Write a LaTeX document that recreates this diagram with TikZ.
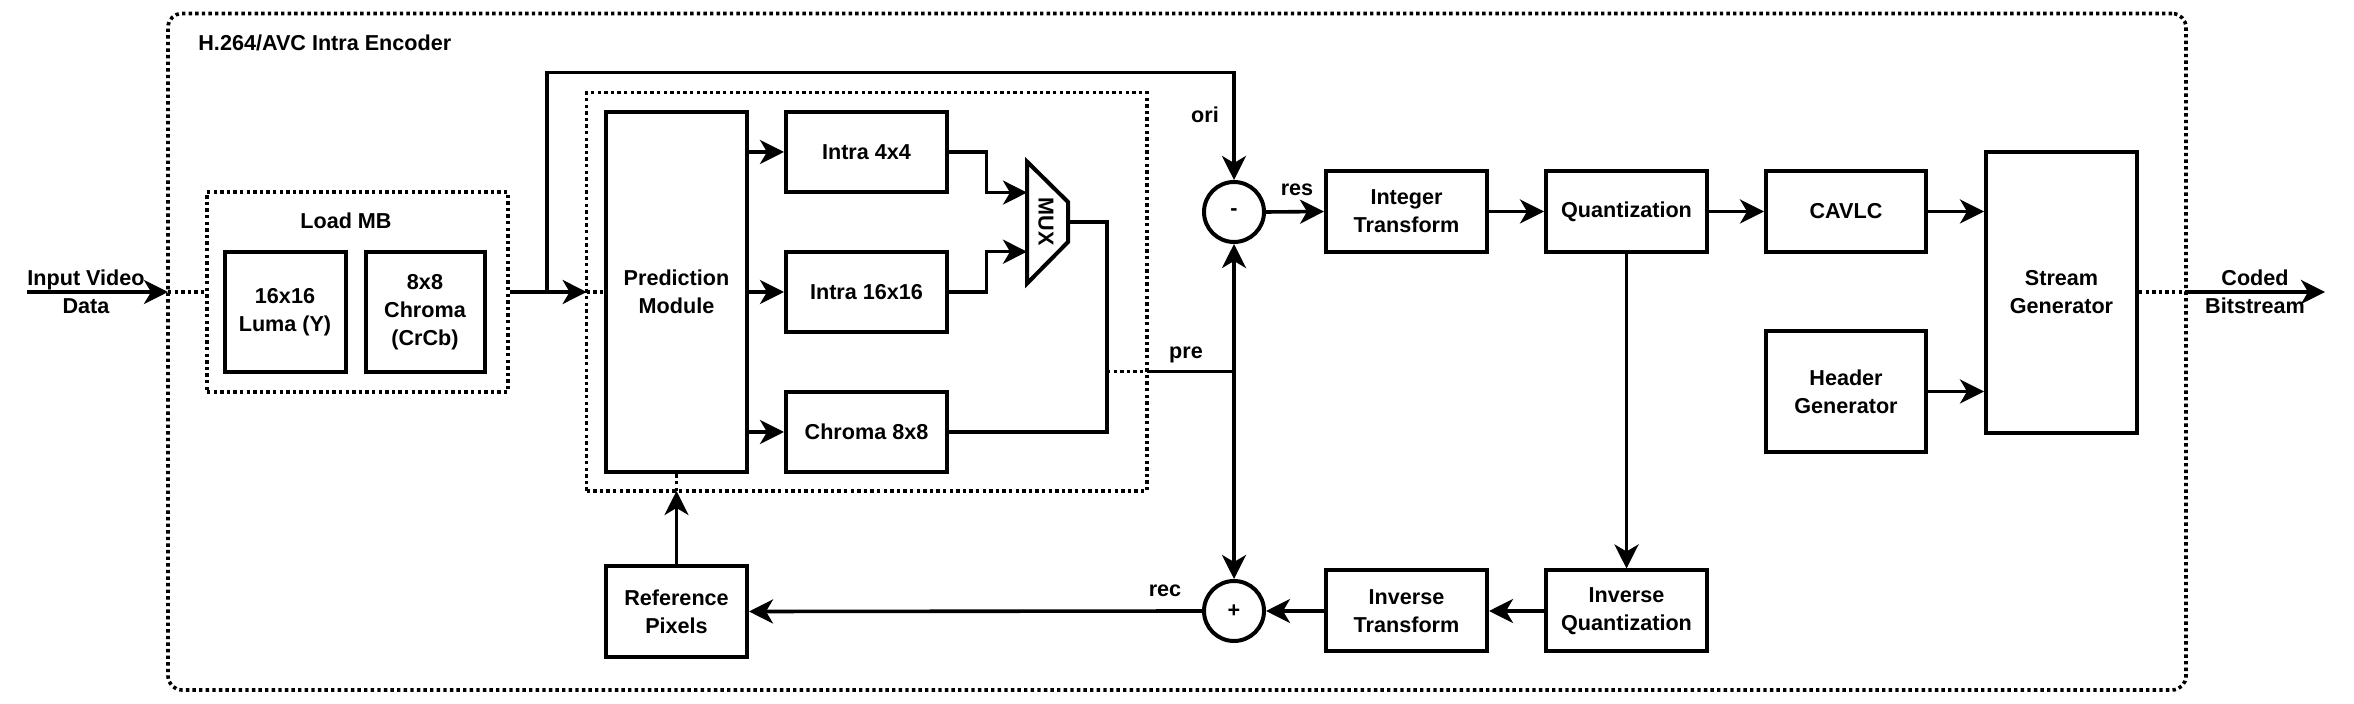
\documentclass[tikz,border=0pt]{standalone}
\usepackage{fontspec}
\setmainfont{Liberation Sans}
\usetikzlibrary{arrows.meta,calc}
\begin{document}
\begin{tikzpicture}[x=0.5pt,y=-0.5pt,
  every node/.style={font=\fontsize{10.8}{14}\selectfont\bfseries, align=center, inner sep=0pt},
  blk/.style={draw, line width=2pt},
  ln/.style={line width=1.8pt},
  arr/.style={line width=1.8pt, -{Stealth[length=12pt,width=12pt,inset=3.5pt]}},
  dot/.style={line width=1.8pt, dash pattern=on 1.7pt off 1.6pt},
  dotbox/.style={draw, line width=1.8pt, dash pattern=on 1.7pt off 1.6pt},
  sumc/.style={draw, circle, line width=2pt, minimum size=30pt},
]
\useasboundingbox (0,0) rectangle (2354,704);

% containers
\node[dotbox, rounded corners=7pt, minimum width=1009pt, minimum height=338.25pt] (outer) at (1177,351.75) {};
\node[anchor=west] (title) at (198,43) {H.264/AVC Intra Encoder};
\node[dotbox, minimum width=150.5pt, minimum height=100pt] (loadmb) at (357.5,292) {};
\node (loadlbl) at (346,221) {Load MB};
\node[dotbox, minimum width=280.2pt, minimum height=199.2pt] (pred) at (866.8,291.8) {};

% blocks
\node[blk, minimum width=60.5pt, minimum height=60pt] (luma) at (285,312) {16x16\\Luma (Y)};
\node[blk, minimum width=59.5pt, minimum height=60pt] (chroma) at (425,312) {8x8\\Chroma\\(CrCb)};
\node[blk, minimum width=70.5pt, minimum height=180pt] (pm) at (676.5,292) {Prediction\\Module};
\node[blk, minimum width=80.5pt, minimum height=40pt] (i4) at (866.5,152) {Intra 4x4};
\node[blk, minimum width=80.5pt, minimum height=40pt] (i16) at (866.5,292) {Intra 16x16};
\node[blk, minimum width=80.5pt, minimum height=40pt] (c8) at (866.5,432) {Chroma 8x8};
\node[blk, minimum width=70.5pt, minimum height=45.5pt] (rp) at (676.5,611.5) {Reference\\Pixels};
\node[blk, minimum width=80.5pt, minimum height=40.5pt] (it) at (1406.5,211.5) {Integer\\Transform};
\node[blk, minimum width=80.5pt, minimum height=40.5pt] (q) at (1626.5,211.5) {Quantization};
\node[blk, minimum width=80pt, minimum height=40.5pt] (cavlc) at (1846,211.5) {CAVLC};
\node[blk, minimum width=80pt, minimum height=60.5pt] (hg) at (1846,391.5) {Header\\Generator};
\node[blk, minimum width=75.5pt, minimum height=140.5pt] (sg) at (2061.5,292.5) {Stream\\Generator};
\node[blk, minimum width=80.5pt, minimum height=40.5pt] (iq) at (1626.5,611) {Inverse\\Quantization};
\node[blk, minimum width=80.5pt, minimum height=40.5pt] (iti) at (1406.5,611) {Inverse\\Transform};
\node[sumc] (minus) at (1234,212) {-};
\node[sumc] (plus) at (1234,611) {+};

% MUX
\coordinate (m1) at (1027,161.6);
\coordinate (m2) at (1068,202);
\coordinate (m3) at (1068,242);
\coordinate (m4) at (1027,283.5);
\draw[line width=2pt, line join=miter] (m1) -- (m2) -- (m3) -- (m4) -- cycle;
\node[rotate=-90] (muxlbl) at (1046,222) {MUX};
\coordinate (muxin1) at (1027,192.6);
\coordinate (muxin2) at (1027,251.7);
\coordinate (muxout) at (1068,222);

% labels
\node (inlbl) at (86,292) {Input Video\\Data};
\node (outlbl) at (2255,292) {Coded\\Bitstream};
\node (ori) at (1205,115) {ori};
\node (res) at (1297,190) {res};
\node (pre) at (1186,355) {pre};
\node (rec) at (1165,591) {rec};

% input path
\coordinate (inS) at (27,292);
\coordinate (outW) at (168,292);
\draw[arr] (inS) -- (outW);
\draw[dot] (outW) -- (loadmb.west);
\coordinate (predW) at (586.6,292);
\draw[arr] (loadmb.east) -- (predW);
\draw[dot] (predW) -- (pm.west);
\coordinate (br) at (547,292);
\coordinate (topc) at (547,72.6);
\draw[arr] (br) -- (topc) -| (minus.north);

% prediction module outputs
\draw[arr] (pm.east |- i4.west) -- (i4.west);
\draw[arr] (pm.east |- i16.west) -- (i16.west);
\draw[arr] (pm.east |- c8.west) -- (c8.west);
\coordinate (j1) at (986.6,152);
\coordinate (j2) at (986.6,292);
\draw[arr] (i4.east) -- (j1) |- (muxin1);
\draw[arr] (i16.east) -- (j2) |- (muxin2);
\coordinate (mo) at (1107,222);
\coordinate (mc) at (1107,432);
\draw[ln] (muxout) -- (mo) -- (mc) -- (c8.east);

% pre path
\coordinate (preA) at (1107,371.5);
\coordinate (preB) at (1147,371.5);
\coordinate (preC) at (1234,371.5);
\draw[dot] (preA) -- (preB);
\draw[ln] (preB) -- (preC);
\draw[arr] (preC) -- (minus.south);
\draw[arr] (preC) -- (plus.north);

% main chain
\draw[arr] (minus.east) -- (it.west);
\draw[arr] (it.east) -- (q.west);
\draw[arr] (q.east) -- (cavlc.west);
\draw[arr] (cavlc.east) -- (sg.west |- cavlc.east);
\draw[arr] (hg.east) -- (sg.west |- hg.east);
\draw[arr] (q.south) -- (iq.north);
\draw[arr] (iq.west) -- (iti.east);
\draw[arr] (iti.west) -- (plus.east);
\draw[arr] (plus.west) -- (rp.east);

% reference pixels feedback
\coordinate (predS) at (676.5,491);
\draw[arr] (rp.north) -- (predS);
\draw[dot] (predS) -- (pm.south);

% output
\coordinate (outE) at (2186,292);
\coordinate (outT) at (2325,292);
\draw[dot] (sg.east |- outE) -- (outE);
\draw[arr] (outE) -- (outT);
\end{tikzpicture}
\end{document}
